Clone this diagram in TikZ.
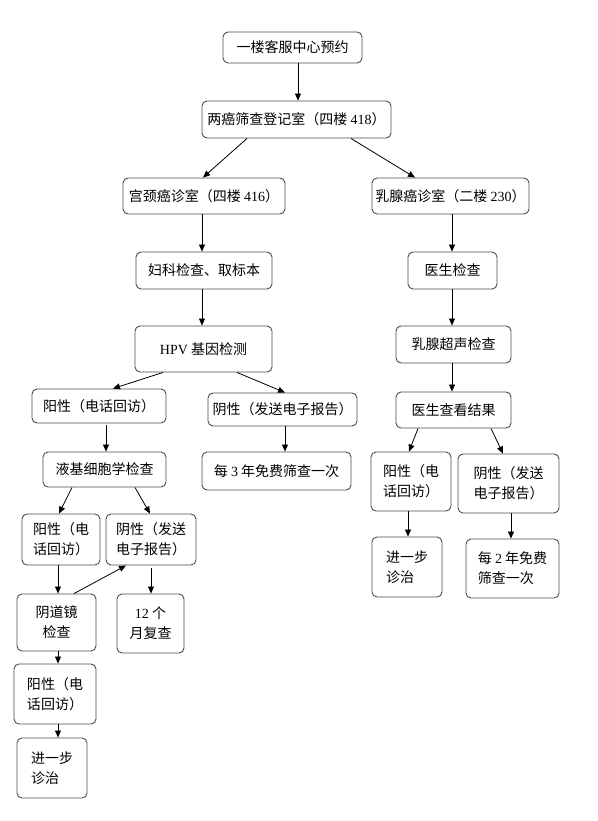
\documentclass[tikz,border=0pt]{standalone}
\usepackage{fontspec}
\setmainfont{Liberation Serif}
\newfontfamily\cjk{Noto Sans CJK SC}
\usetikzlibrary{arrows.meta}
\begin{document}
\begin{tikzpicture}[x=1pt,y=-1pt,
		box/.style={draw=black!70,line width=0.9pt,rounded corners=5pt,inner sep=0pt,
			font=\cjk\fontsize{14}{20}\selectfont,align=center},
		arr/.style={-{Triangle[length=7pt,width=6pt]},line width=0.8pt}]
			\useasboundingbox (0,0) rectangle (597,821);
			% top of the chart
			\node (book) [box,minimum width=139pt,minimum height=31pt] at (292.5,47.5) {一楼客服中心预约};
			\node (reg) [box,minimum width=189pt,minimum height=37pt] at (296.5,119.5) {两癌筛查登记室（四楼 \textrm{418}）};
			\node (cerv) [box,minimum width=162pt,minimum height=36pt] at (204,196) {宫颈癌诊室（四楼 \textrm{416}）};
			\node (breast) [box,minimum width=157pt,minimum height=36pt] at (450.5,196) {乳腺癌诊室（二楼 \textrm{230}）};
			% cervix branch
			\node (gyn) [box,minimum width=136pt,minimum height=37pt] at (204,270.5) {妇科检查、取标本};
			\node (hpv) [box,minimum width=137pt,minimum height=46pt] at (203.5,349) {\textrm{HPV} 基因检测};
			\node (posA) [box,minimum width=134pt,minimum height=34pt] at (99,406) {阳性（电话回访）};
			\node (negA) [box,minimum width=149pt,minimum height=33pt] at (282.5,409.5) {阴性（发送电子报告）};
			\node (lbc) [box,minimum width=123pt,minimum height=35pt] at (104.5,469.5) {液基细胞学检查};
			\node (free3) [box,minimum width=149pt,minimum height=38pt] at (276.5,471) {每 \textrm{3} 年免费筛查一次};
			\node (posB) [box,minimum width=78pt,minimum height=51pt] at (61,539.5) {阳性（电\\话回访）};
			\node (negB) [box,minimum width=90pt,minimum height=51pt] at (151,539.5) {阴性（发送\\电子报告）};
			\node (colpo) [box,minimum width=79pt,minimum height=57pt] at (56.5,622.5) {阴道镜\\检查};
			\node (recheck) [box,minimum width=67pt,minimum height=59pt] at (150.5,623.5) {\textrm{12} 个\\月复查};
			\node (posC) [box,minimum width=82pt,minimum height=60pt] at (55,694) {阳性（电\\话回访）};
			\node (treatL) [box,align=left,minimum width=70pt,minimum height=60pt] at (52,768) {进一步\\诊治};
			% breast branch
			\node (doc) [box,minimum width=89pt,minimum height=37pt] at (452.5,270.5) {医生检查};
			\node (us) [box,minimum width=115pt,minimum height=37pt] at (453.5,344.5) {乳腺超声检查};
			\node (result) [box,minimum width=115pt,minimum height=36pt] at (453.5,410) {医生查看结果};
			\node (posR) [box,minimum width=80pt,minimum height=59pt] at (411,481.5) {阳性（电\\话回访）};
			\node (negR) [box,minimum width=101pt,minimum height=59pt] at (508.5,483.5) {阴性（发送\\电子报告）};
			\node (treatR) [box,align=left,minimum width=70pt,minimum height=60pt] at (407,567) {进一步\\诊治};
			\node (free2) [box,align=left,minimum width=93pt,minimum height=59pt] at (512.5,568.5) {每 \textrm{2} 年免费\\筛查一次};
			% connectors
			\draw [arr] ([xshift=5.5pt]book.south) -- ([xshift=1.5pt]reg.north);
			\draw [arr] ([xshift=-49.5pt]reg.south) -- ([xshift=-1pt]cerv.north);
			\draw [arr] ([xshift=54.5pt]reg.south) -- ([xshift=-35.5pt]breast.north);
			\draw [arr] ([xshift=-2pt]cerv.south) -- ([xshift=-2pt]gyn.north);
			\draw [arr] ([xshift=-2pt]gyn.south) -- ([xshift=-1.5pt]hpv.north);
			\draw [arr] ([xshift=-40.5pt]hpv.south) -- ([xshift=14pt]posA.north);
			\draw [arr] ([xshift=33.5pt]hpv.south) -- ([xshift=2.5pt]negA.north);
			\draw [arr] ([xshift=7pt,yshift=-2pt]posA.south) -- ([xshift=1.5pt]lbc.north);
			\draw [arr] ([xshift=2.5pt]negA.south) -- ([xshift=8.5pt]free3.north);
			\draw [arr] ([xshift=-32.5pt]lbc.south) -- ([xshift=-2pt]posB.north);
			\draw [arr] ([xshift=30.5pt]lbc.south) -- ([xshift=-1pt]negB.north);
			\draw [arr] ([xshift=-3pt]posB.south) -- ([xshift=1.5pt]colpo.north);
			\draw [arr] ([xshift=17.5pt]colpo.north) -- ([xshift=-25pt]negB.south);
			\draw [arr] ([yshift=-3pt]negB.south) -- ([xshift=0.5pt]recheck.north);
			\draw [arr] ([xshift=1.5pt]colpo.south) -- ([xshift=3pt]posC.north);
			\draw [arr] ([xshift=3pt]posC.south) -- ([xshift=6pt]treatL.north);
			\draw [arr] ([xshift=1.5pt]breast.south) -- ([xshift=-0.5pt]doc.north);
			\draw [arr] ([xshift=-0.5pt]doc.south) -- ([xshift=-1.5pt]us.north);
			\draw [arr] ([xshift=-1.5pt]us.south) -- ([xshift=-1.5pt]result.north);
			\draw [arr] ([xshift=-35.5pt]result.south) -- ([xshift=-2pt]posR.north);
			\draw [arr] ([xshift=37.5pt]result.south) -- ([xshift=-5.5pt]negR.north);
			\draw [arr] ([xshift=-3pt]posR.south) -- ([xshift=1pt]treatR.north);
			\draw [arr] ([xshift=2.5pt]negR.south) -- ([xshift=-1.5pt]free2.north);
		\end{tikzpicture}
\end{document}
